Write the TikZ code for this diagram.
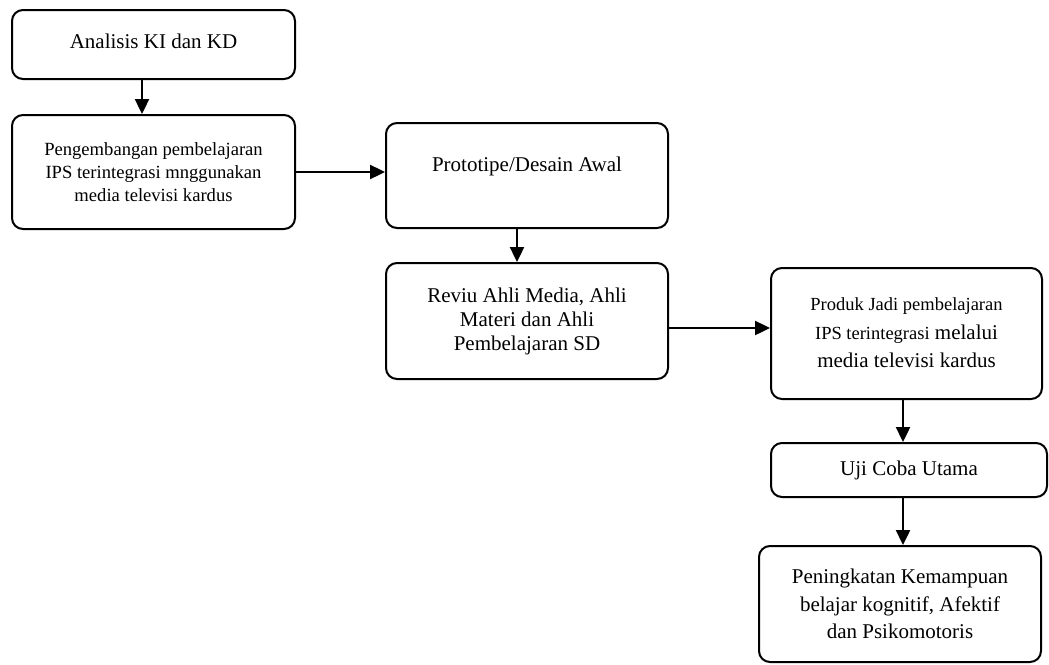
\documentclass[tikz,border=0pt]{standalone}
\usepackage{fontspec}
\setmainfont{Liberation Serif}
\usetikzlibrary{arrows.meta}
\tikzset{
  box/.style={draw, line width=2pt, rounded corners=11pt, inner sep=0pt, align=center,
    font=\fontsize{21}{24}\selectfont},
  flow/.style={line width=2.4pt, -{Triangle[length=15pt,width=14pt]}}
}
\begin{document}
\begin{tikzpicture}[x=1pt,y=-1pt]
\useasboundingbox (0,0) rectangle (1049,664);
% left column
\node[box, minimum width=283pt, minimum height=69pt,
  label={[font=\fontsize{21}{24}\selectfont, anchor=center]center:{\raisebox{7pt}{Analisis KI dan KD}}}]
  (analisis) at (153.5,44.5) {};
\node[box, minimum width=283pt, minimum height=114pt, font=\fontsize{18.6}{23}\selectfont]
  (pengembangan) at (153.5,172) {Pengembangan pembelajaran\\IPS terintegrasi mnggunakan\\media televisi kardus};
% middle column
\node[box, minimum width=282pt, minimum height=105pt,
  label={[font=\fontsize{21}{24}\selectfont, anchor=center]center:{\raisebox{23.5pt}{Prototipe/Desain Awal}}}]
  (prototipe) at (527,175.5) {};
\node[box, minimum width=282pt, minimum height=116pt]
  (reviu) at (527,321) {Reviu Ahli Media, Ahli\\Materi dan Ahli\\Pembelajaran SD};
% right column
\node[box, minimum width=271pt, minimum height=131pt,
  label={[font=\fontsize{21}{28.5}\selectfont, anchor=center, align=center]center:{\raisebox{10pt}{\begin{tabular}{@{}c@{}}{\fontsize{18.5}{28.5}\selectfont Produk Jadi pembelajaran}\\{\fontsize{18.5}{28.5}\selectfont IPS terintegrasi} melalui\\media televisi kardus\end{tabular}}}}]
  (produk) at (906.5,333.5) {};
\node[box, minimum width=276pt, minimum height=54pt]
  (uji) at (909,470) {Uji Coba Utama};
\node[box, minimum width=282pt, minimum height=116pt, font=\fontsize{21}{27.5}\selectfont]
  (hasil) at (900,604) {Peningkatan Kemampuan\\belajar kognitif, Afektif\\dan Psikomotoris};
% connectors
\coordinate (rx) at (903,0);
\draw[flow] ([xshift=-11.5pt]analisis.south) -- ([xshift=-11.5pt]pengembangan.north);
\draw[flow] (pengembangan.east) -- (pengembangan.east -| prototipe.west);
\draw[flow] ([xshift=-10pt]prototipe.south) -- ([xshift=-10pt]reviu.north);
\draw[flow] ([yshift=-7pt]reviu.east) -- ([yshift=-7pt]reviu.east -| produk.west);
\draw[flow] (produk.south -| rx) -- (uji.north -| rx);
\draw[flow] (uji.south -| rx) -- (hasil.north -| rx);
\end{tikzpicture}
\end{document}
